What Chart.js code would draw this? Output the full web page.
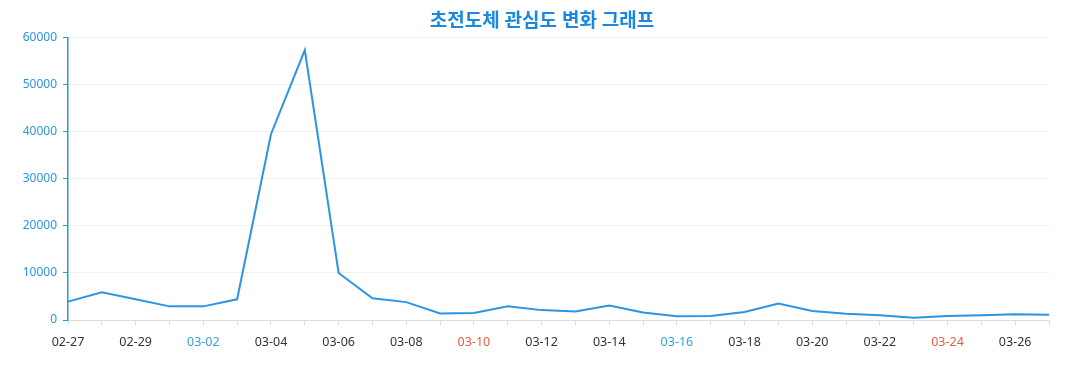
<!DOCTYPE html>
<html>
<head>
<meta charset="utf-8">
<script src="https://cdn.jsdelivr.net/npm/chart.js@4"></script>
<style>
  html, body { margin: 0; padding: 0; background: #fff; }
  #wrap { width: 1077px; height: 390px; }
</style>
</head>
<body>
<div id="wrap"><canvas id="chart"></canvas></div>
<script>
// dates (2024)
const labels = [
  '02-27', '02-28', '02-29', '03-01', '03-02', '03-03', '03-04', '03-05', '03-06', '03-07',
  '03-08', '03-09', '03-10', '03-11', '03-12', '03-13', '03-14', '03-15', '03-16', '03-17',
  '03-18', '03-19', '03-20', '03-21', '03-22', '03-23', '03-24', '03-25', '03-26', '03-27'
];
const interest = [
  3900, 5900, 4400, 2900, 2900, 4400, 39500, 57400, 10000, 4600,
  3800, 1400, 1500, 2900, 2100, 1800, 3100, 1600, 800, 850,
  1700, 3500, 1900, 1350, 1000, 500, 850, 1000, 1200, 1100
];
const yTicks = [0, 10000, 20000, 30000, 40000, 50000, 60000];

const BLUE = '#2b95e3';
const FONT = "'Noto Sans', 'Noto Sans CJK KR', sans-serif";

function dayColor(label) {
  const [m, d] = label.split('-').map(Number);
  const dow = new Date(2024, m - 1, d).getDay();
  if (dow === 6) return '#3a9fd6';
  if (dow === 0) return '#e25c45';
  return '#333';
}

// center the title over the whole canvas rather than the padded box
const centerTitle = {
  id: 'centerTitle',
  afterLayout(chart) {
    if (chart.titleBlock) {
      chart.titleBlock.left = 0;
      chart.titleBlock.right = chart.width + 7;
    }
  }
};

const ctx = document.getElementById('chart').getContext('2d');
new Chart(ctx, {
  type: 'line',
  data: {
    labels,
    datasets: [{
      label: '관심도',
      data: interest,
      borderColor: BLUE,
      borderWidth: 2,
      pointRadius: 0,
      tension: 0,
      fill: false
    }]
  },
  options: {
    responsive: true,
    maintainAspectRatio: false,
    animation: false,
    layout: { padding: { left: 0, right: 28, top: 0, bottom: 30 } },
    plugins: {
      legend: { display: false },
      tooltip: { enabled: false },
      title: {
        display: true,
        text: '초전도체 관심도 변화 그래프',
        color: '#1a88e0',
        font: { family: FONT, size: 19, weight: 'bold' },
        padding: { top: 10, bottom: 5 }
      }
    },
    scales: {
      x: {
        offset: false,
        border: { color: '#ddd', width: 1 },
        grid: { drawOnChartArea: false, drawTicks: true, tickLength: 5, color: '#ddd' },
        ticks: {
          autoSkip: false,
          maxRotation: 0,
          padding: 10,
          font: { family: FONT, size: 12.5 },
          color: c => dayColor(labels[c.index]),
          callback: (v, i) => (i % 2 === 0 ? labels[i] : '')
        }
      },
      y: {
        min: 0,
        max: 60000,
        afterFit: s => { s.width = 68; },
        afterBuildTicks: s => { s.ticks = yTicks.map(v => ({ value: v })); },
        border: { color: BLUE, width: 1.5 },
        grid: { color: '#f0f0f0', tickColor: BLUE, tickLength: 5, lineWidth: 1 },
        ticks: {
          padding: 6,
          color: BLUE,
          font: { family: FONT, size: 12 },
          callback: v => String(v)
        }
      }
    }
  },
  plugins: [centerTitle]
});
</script>
</body>
</html>
